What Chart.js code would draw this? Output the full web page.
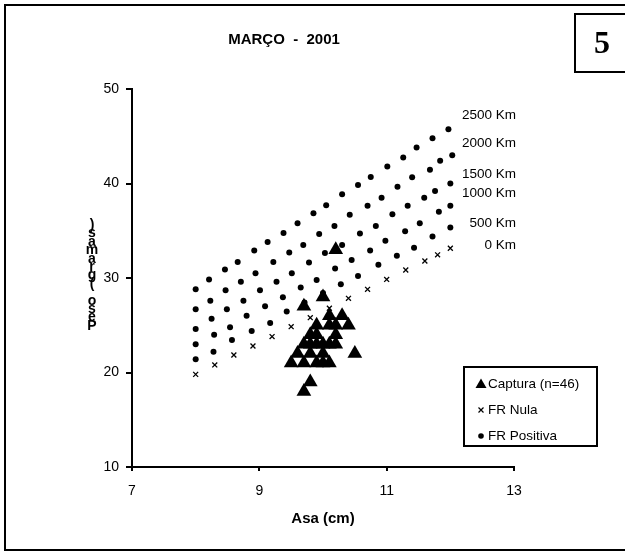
<!DOCTYPE html>
<html>
<head>
<meta charset="utf-8">
<script src="https://cdn.jsdelivr.net/npm/chart.js@4.4.1/dist/chart.umd.min.js"></script>
<style>
  html, body { margin: 0; padding: 0; background: #fff; }
</style>
</head>
<body>
<canvas id="myChart" width="625" height="556"></canvas>
<script>
// Captura (triângulos) : asa (cm) e peso (g)
const capturaAsa  = [9.7, 10.0, 10.2, 10.1, 10.3, 9.9, 10.1, 10.2, 10.4, 9.8, 9.9, 10.2,
                     9.7, 9.8, 9.9, 10.0, 10.1, 10.2, 9.6, 9.8, 10.0, 10.5,
                     9.5, 9.7, 9.9, 10.0, 10.1, 9.8, 9.7];
const capturaPeso = [27, 28, 33, 26, 26, 25, 25, 25, 25, 24, 24, 24,
                     23, 23, 23, 23, 23, 23, 22, 22, 22, 22,
                     21, 21, 21, 21, 21, 19, 18];

// FR nula (0 Km) : cruzes
const nulaAsa  = [8.0, 8.3, 8.6, 8.9, 9.2, 9.5, 9.8, 10.1, 10.4, 10.7, 11.0, 11.3, 11.6, 11.8, 12.0];
const nulaPeso = [19.8, 20.8, 21.85, 22.8, 23.8, 24.85, 25.8, 26.8, 27.85, 28.8, 29.85, 30.85, 31.8, 32.45, 33.15];

// FR positiva : uma série por distância
const fr500Asa  = [8.0, 8.28, 8.57, 8.88, 9.17, 9.43, 9.71, 10.0, 10.28, 10.55, 10.87, 11.16, 11.43, 11.72, 12.0];
const fr500Peso = [21.4, 22.2, 23.45, 24.4, 25.25, 26.45, 27.4, 28.4, 29.35, 30.2, 31.4, 32.35, 33.2, 34.4, 35.35];
const fr1000Asa  = [8.0, 8.29, 8.54, 8.8, 9.09, 9.37, 9.65, 9.9, 10.19, 10.45, 10.74, 10.98, 11.29, 11.52, 11.82, 12.0];
const fr1000Peso = [23.0, 24.0, 24.8, 26.0, 27.0, 27.95, 29.0, 29.8, 31.0, 31.9, 32.9, 33.95, 34.95, 35.8, 37.0, 37.65];
const fr1500Asa  = [8.0, 8.25, 8.49, 8.75, 9.01, 9.27, 9.51, 9.78, 10.03, 10.3, 10.58, 10.83, 11.09, 11.33, 11.59, 11.76, 12.0];
const fr1500Peso = [24.6, 25.7, 26.7, 27.6, 28.7, 29.6, 30.5, 31.65, 32.65, 33.5, 34.7, 35.5, 36.75, 37.65, 38.5, 39.2, 40.0];
const fr2000Asa  = [8.0, 8.23, 8.47, 8.71, 8.94, 9.22, 9.47, 9.69, 9.94, 10.18, 10.42, 10.7, 10.92, 11.17, 11.4, 11.68, 11.84, 12.03];
const fr2000Peso = [26.7, 27.6, 28.7, 29.6, 30.5, 31.7, 32.7, 33.5, 34.65, 35.5, 36.7, 37.65, 38.5, 39.65, 40.65, 41.45, 42.4, 43.0];
const fr2500Asa  = [8.0, 8.21, 8.46, 8.66, 8.92, 9.13, 9.38, 9.6, 9.85, 10.05, 10.3, 10.55, 10.75, 11.01, 11.26, 11.47, 11.72, 11.97];
const fr2500Peso = [28.8, 29.85, 30.9, 31.7, 32.9, 33.8, 34.75, 35.8, 36.85, 37.7, 38.85, 39.85, 40.7, 41.8, 42.75, 43.8, 44.8, 45.75];

// textos
const titulo = 'MARÇO  -  2001';
const painel = '5';
const tituloX = 'Asa (cm)';
const tituloY = 'Peso (gramas)';
const rotulosDist = ['2500 Km', '2000 Km', '1500 Km', '1000 Km', '500 Km', '0 Km'];
const rotulosPeso = [47.25, 44.3, 41.0, 39.0, 35.8, 33.5];   // altura de cada rótulo (em g)
const legendaTextos = ['Captura (n=46)', 'FR Nula', 'FR Positiva'];

const fonte = "'Liberation Sans', Arial, sans-serif";

function pontos(xs, ys) {
  return xs.map((x, i) => ({ x: x, y: ys[i] }));
}

function serieFR(xs, ys) {
  return {
    data: pontos(xs, ys),
    pointStyle: 'circle',
    pointRadius: 3,
    backgroundColor: '#000',
    borderColor: '#000',
    borderWidth: 0
  };
}

// desenha moldura, título, painel, rótulos e legenda
const decoracao = {
  id: 'decoracao',
  afterDraw(chart) {
    const ctx = chart.ctx;
    const y = chart.scales.y;
    ctx.save();
    ctx.strokeStyle = '#000';
    ctx.fillStyle = '#000';

    // moldura externa
    ctx.lineWidth = 2;
    ctx.strokeRect(5, 5, 700, 545);

    // quadro do número
    ctx.strokeRect(575, 14, 80, 58);
    ctx.font = "bold 32px 'Liberation Serif', 'Times New Roman', serif";
    ctx.textAlign = 'center';
    ctx.textBaseline = 'middle';
    ctx.fillText(painel, 602, 45);

    // título
    ctx.font = 'bold 15px ' + fonte;
    ctx.fillText(titulo, 284, 40);

    // rótulos das distâncias
    ctx.font = '13.5px ' + fonte;
    ctx.textAlign = 'right';
    rotulosDist.forEach((t, i) => {
      ctx.fillText(t, 516, y.getPixelForValue(rotulosPeso[i]));
    });

    // título do eixo y, letras empilhadas
    ctx.font = 'bold 14px ' + fonte;
    ctx.textAlign = 'center';
    const letras = tituloY.split('');
    letras.forEach((c, i) => {
      ctx.fillText(c, 92, 326 - i * 8.4);
    });

    // legenda
    ctx.lineWidth = 2;
    ctx.strokeRect(464, 367, 133, 79);
    ctx.font = '13.5px ' + fonte;
    ctx.textAlign = 'left';
    const ly = [384, 410, 436];
    legendaTextos.forEach((t, i) => ctx.fillText(t, 488, ly[i]));
    // triângulo
    ctx.beginPath();
    ctx.moveTo(481, ly[0] - 5.5);
    ctx.lineTo(486.5, ly[0] + 4);
    ctx.lineTo(475.5, ly[0] + 4);
    ctx.closePath();
    ctx.fill();
    // cruz
    ctx.lineWidth = 1.2;
    ctx.beginPath();
    ctx.moveTo(478.5, ly[1] - 2.5); ctx.lineTo(483.5, ly[1] + 2.5);
    ctx.moveTo(483.5, ly[1] - 2.5); ctx.lineTo(478.5, ly[1] + 2.5);
    ctx.stroke();
    // ponto
    ctx.beginPath();
    ctx.arc(481, ly[2], 2.8, 0, Math.PI * 2);
    ctx.fill();

    ctx.restore();
  }
};

const data = {
  datasets: [
    {
      data: pontos(capturaAsa, capturaPeso),
      pointStyle: 'triangle',
      pointRadius: 8.5,
      backgroundColor: '#000',
      borderColor: '#000',
      borderWidth: 0
    },
    {
      data: pontos(nulaAsa, nulaPeso),
      pointStyle: 'crossRot',
      pointRadius: 3.5,
      borderColor: '#000',
      borderWidth: 1.3
    },
    serieFR(fr500Asa, fr500Peso),
    serieFR(fr1000Asa, fr1000Peso),
    serieFR(fr1500Asa, fr1500Peso),
    serieFR(fr2000Asa, fr2000Peso),
    serieFR(fr2500Asa, fr2500Peso)
  ]
};

const config = {
  type: 'scatter',
  data,
  options: {
    responsive: false,
    animation: false,
    layout: { padding: { left: 0, right: 111, top: 89, bottom: 0 } },
    plugins: {
      legend: { display: false },
      tooltip: { enabled: false }
    },
    scales: {
      x: {
        type: 'linear',
        min: 7,
        max: 13,
        ticks: { stepSize: 2, color: '#000', padding: 12, font: { family: fonte, size: 14 } },
        grid: { drawOnChartArea: false, drawTicks: true, tickLength: 4, color: '#000', lineWidth: 2 },
        border: { color: '#000', width: 2 },
        title: {
          display: true, text: tituloX, color: '#000',
          font: { family: fonte, size: 15, weight: 'bold' },
          padding: { top: 0, bottom: 28 }
        },
        afterFit: (s) => { s.height = 89; }
      },
      y: {
        min: 10,
        max: 50,
        ticks: { stepSize: 10, color: '#000', padding: 7, font: { family: fonte, size: 14 } },
        grid: { drawOnChartArea: false, drawTicks: true, tickLength: 6, color: '#000', lineWidth: 2 },
        border: { color: '#000', width: 2 },
        afterFit: (s) => { s.width = 132; }
      }
    }
  },
  plugins: [decoracao]
};

const myChart = new Chart(document.getElementById('myChart'), config);
</script>
</body>
</html>
